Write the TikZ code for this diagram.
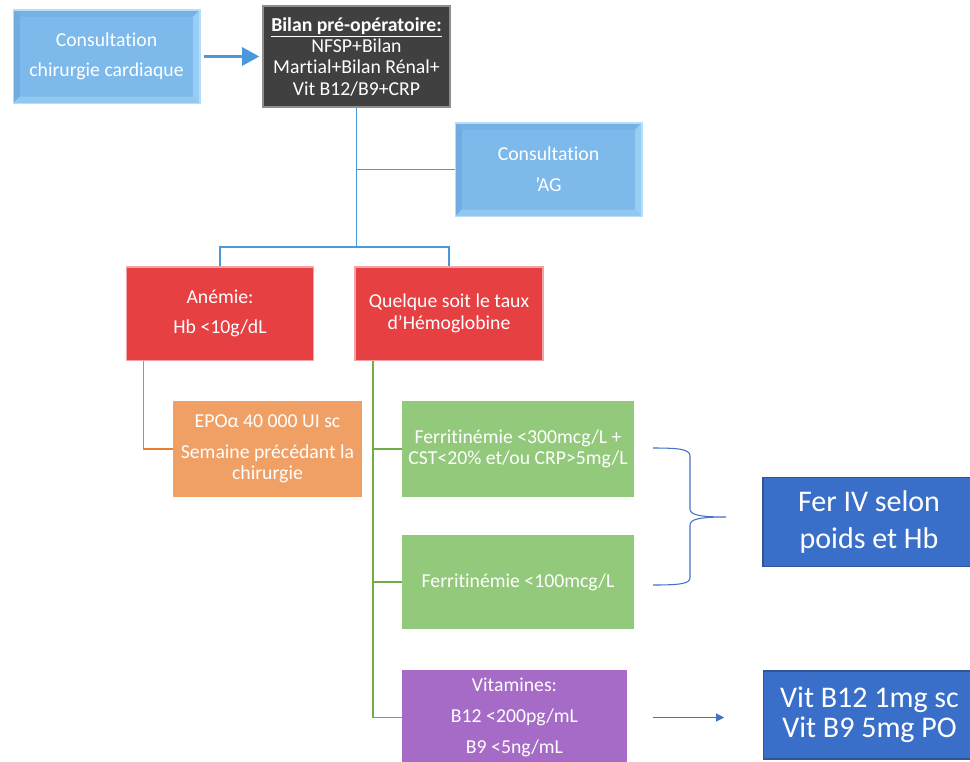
\documentclass[tikz,border=0pt]{standalone}
\usepackage{fontspec}
\setmainfont[RawFeature={-liga;-clig;-calt}]{Carlito}
\usetikzlibrary{arrows.meta}

\definecolor{consult}{HTML}{7DB9EA}
\definecolor{consultlo}{HTML}{74B1E4}
\definecolor{consultleft}{HTML}{6FACE1}
\definecolor{consulthi}{HTML}{90C8F1}
\definecolor{consultright}{HTML}{98CDF4}
\definecolor{consultedge}{HTML}{B7DDF8}
\definecolor{bilanfill}{HTML}{404040}
\definecolor{bilanedge}{HTML}{8E8E8E}
\definecolor{rouge}{HTML}{E64043}
\definecolor{rougeedge}{HTML}{F2A3A5}
\definecolor{epofill}{HTML}{F1A065}
\definecolor{ferfill}{HTML}{93C97B}
\definecolor{vitfill}{HTML}{A56BC6}
\definecolor{traitfill}{HTML}{3A6FC9}
\definecolor{traitedge}{HTML}{2F5597}
\definecolor{lienbleu}{HTML}{4A98DC}
\definecolor{lienorange}{HTML}{ED7D31}
\definecolor{lienvert}{HTML}{70AD47}
\definecolor{accolade}{HTML}{4472C4}

\tikzset{
  petit/.style={font=\fontsize{14.8}{16}\selectfont, text=white, align=center},
  grand/.style={font=\fontsize{22.5}{22.5}\selectfont, text=white, align=center},
  bevelbox/.style={petit, fill=consult, draw=consultedge, line width=1pt,
    minimum width=140pt, minimum height=70pt,
    path picture={
      \fill[consultlo] (path picture bounding box.north west) -- (path picture bounding box.north east)
        -- ([shift={(-5pt,-5pt)}]path picture bounding box.north east)
        -- ([shift={(5pt,-5pt)}]path picture bounding box.north west) -- cycle;
      \fill[consultleft] (path picture bounding box.north west) -- (path picture bounding box.south west)
        -- ([shift={(5pt,5pt)}]path picture bounding box.south west)
        -- ([shift={(5pt,-5pt)}]path picture bounding box.north west) -- cycle;
      \fill[consulthi] (path picture bounding box.south west) -- (path picture bounding box.south east)
        -- ([shift={(-5pt,5pt)}]path picture bounding box.south east)
        -- ([shift={(5pt,5pt)}]path picture bounding box.south west) -- cycle;
      \fill[consultright] (path picture bounding box.north east) -- (path picture bounding box.south east)
        -- ([shift={(-5pt,5pt)}]path picture bounding box.south east)
        -- ([shift={(-5pt,-5pt)}]path picture bounding box.north east) -- cycle;
    }},
  bilanbox/.style={petit, fill=bilanfill, draw=bilanedge, line width=1.2pt,
    minimum width=140pt, minimum height=76pt},
  rougebox/.style={petit, fill=rouge, draw=rougeedge, line width=1pt,
    minimum width=140pt, minimum height=70pt},
  epobox/.style={petit, fill=epofill, minimum width=142pt, minimum height=72pt},
  ferbox/.style={petit, fill=ferfill, minimum width=174pt, minimum height=72pt},
  vitbox/.style={petit, fill=vitfill, minimum width=169pt, minimum height=72pt},
  traitbox/.style={grand, fill=traitfill, draw=traitedge, line width=1pt,
    minimum width=159pt, minimum height=67pt},
}

\begin{document}
\begin{tikzpicture}[x=0.75pt,y=-0.75pt]
  \useasboundingbox (0,0) rectangle (970,761);

  \node[bevelbox] (cc) at (106.5,56.5) {Consultation\\[7pt]chirurgie cardiaque};
  \node[bilanbox] (bilan) at (356.5,56.5)
    {\underline{\textbf{Bilan pré-opératoire:}}\\NFSP+Bilan\\Martial+Bilan Rénal+\\Vit B12/B9+CRP};
  \node[bevelbox] (ag) at (548.5,169.5) {Consultation\\[7pt]’AG};

  \node[rougebox] (anemie) at (220,313.5) {Anémie:\\[7pt]Hb <10g/dL};
  \node[rougebox, minimum width=141pt] (quelque) at (449,313.5) {Quelque soit le taux\\d’Hémoglobine};

  \node[epobox] (epo) at (267.5,449) {EPOα 40 000 UI sc\\[7pt]Semaine précédant la\\chirurgie};
  \node[ferbox] (fer1) at (518,449) {Ferritinémie <300mcg/L +\\CST<20\% et/ou CRP>5mg/L};
  \node[ferbox, minimum height=70pt] (fer2) at (518,582) {Ferritinémie <100mcg/L};
  \node[vitbox] (vit) at (514.5,717.5) {Vitamines:\\[7pt]B12 <200pg/mL\\[7pt]B9 <5ng/mL};

  \node[traitbox, font=\fontsize{22.5}{27.5}\selectfont] (ferIV) at (869,522) {Fer IV selon\\poids et Hb};
  \node[traitbox, minimum height=66pt] (vitB) at (869.5,715) {Vit B12 1mg sc\\Vit B9 5mg PO};

  \coordinate (fork) at (357,247);
  \coordinate (epoTrunk) at ([xshift=13pt]anemie.south west);
  \coordinate (ferTrunk) at ([xshift=14pt]quelque.south west);

  % liens
  \draw[lienbleu, line width=2.6pt, -{Triangle[length=13pt,width=13.5pt]},
    shorten <=2.25pt, shorten >=2.25pt] (cc.east) -- (bilan.west);
  \begin{scope}[lienbleu, line width=1.1pt]
    \draw (bilan.south) -- (bilan.south |- fork);
    \draw (bilan.south |- ag.west) -- (ag.west);
    \draw (anemie.north) |- (fork) -| (quelque.north);
  \end{scope}
  \draw[lienorange, line width=1.1pt] (epoTrunk) |- (epo.west);
  \begin{scope}[lienvert, line width=1.1pt]
    \draw (ferTrunk) |- (vit.west);
    \draw (ferTrunk |- fer1.west) -- (fer1.west);
    \draw (ferTrunk |- fer2.west) -- (fer2.west);
  \end{scope}

  % accolade
  \draw[accolade, line width=0.8pt] (653,448) .. controls (678,448) and (690,449) .. (690,456)
    -- (690,509) .. controls (690,515) and (700,517) .. (726,517)
    .. controls (700,517) and (690,519) .. (690,525)
    -- (690,578) .. controls (690,584) and (678,585) .. (653,585);

  \draw[accolade, line width=0.8pt, -{Triangle[length=6pt,width=6pt]},
    shorten <=19.5pt, shorten >=29pt] (vit.east) -- (vit.east -| vitB.west);
\end{tikzpicture}
\end{document}
